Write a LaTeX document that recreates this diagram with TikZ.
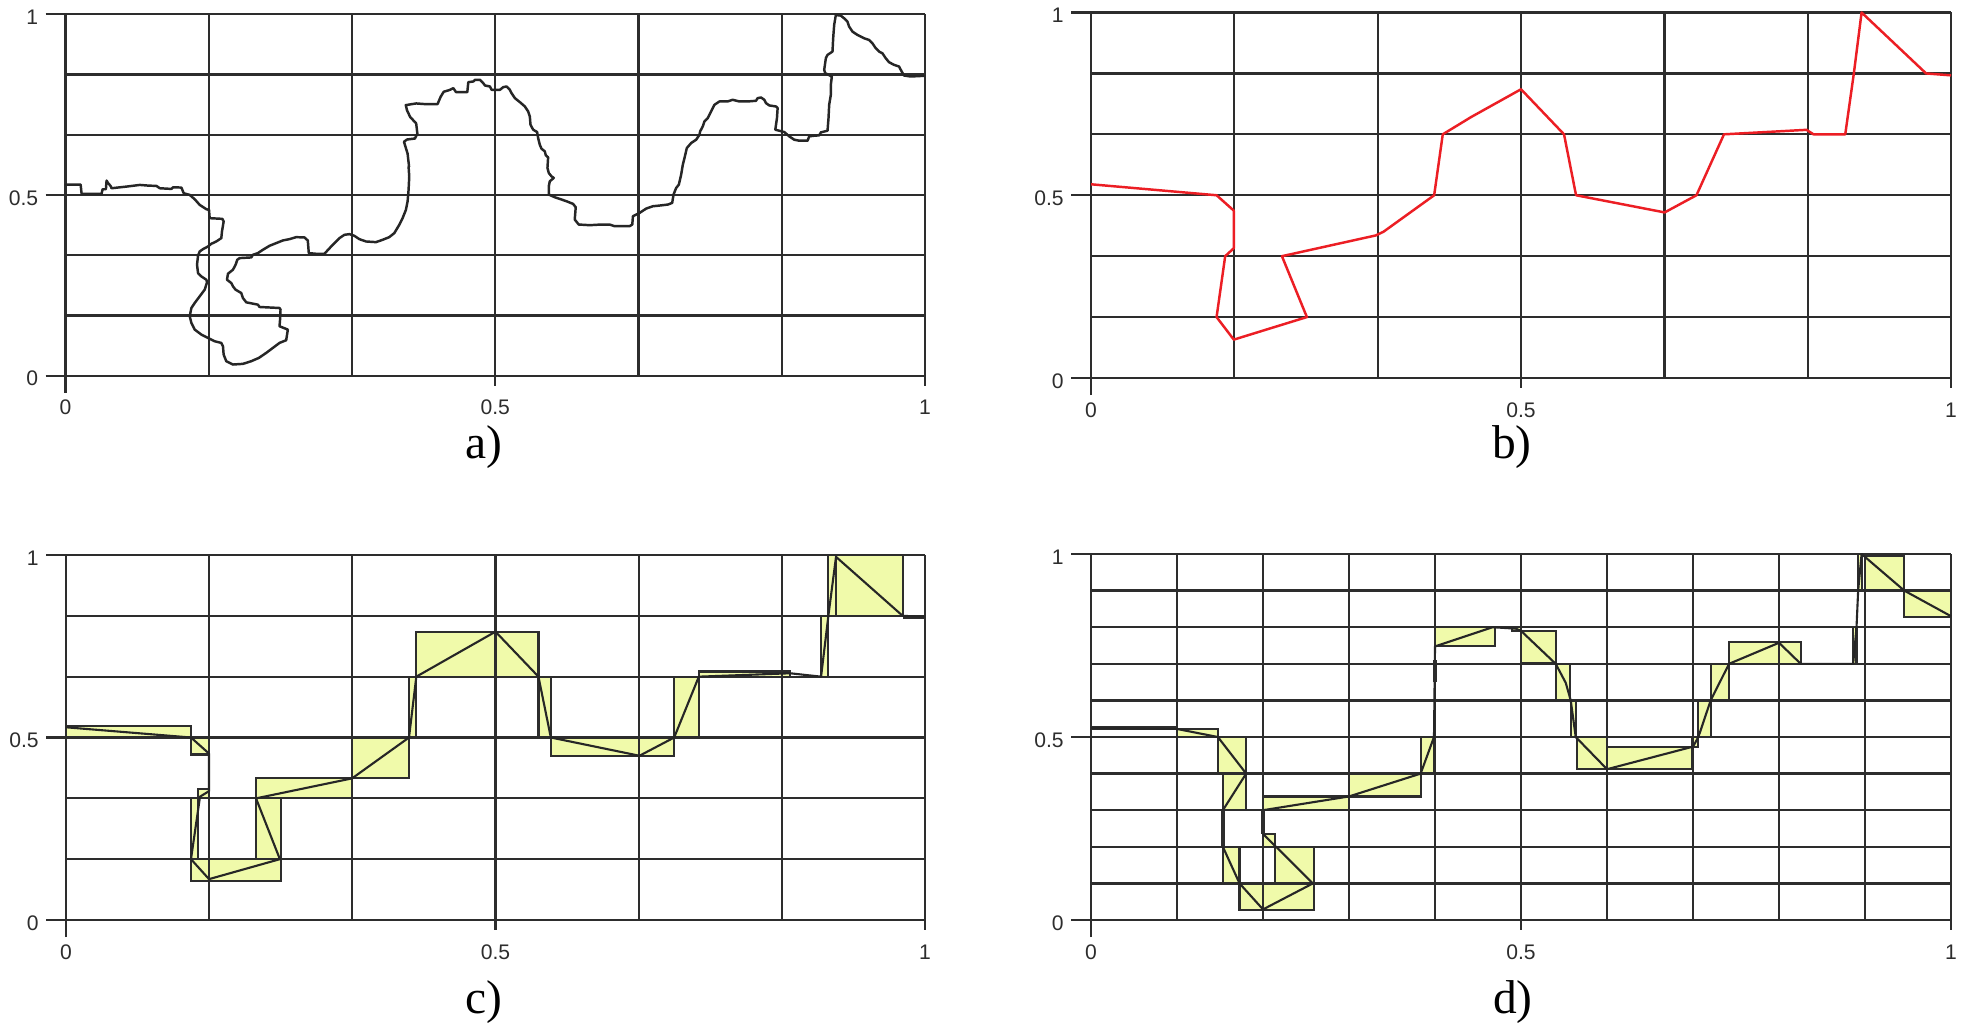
\documentclass[tikz,border=0pt]{standalone}
\usepackage{fontspec}
\setmainfont{Liberation Serif}
\newfontfamily\tickfont{Liberation Sans}
\definecolor{gridc}{RGB}{45,45,45}
\definecolor{boxfill}{RGB}{240,250,170}
\definecolor{redline}{RGB}{236,30,36}
\tikzset{
  gridln/.style={draw=gridc, line width=0.65pt},
  ticklab/.style={font=\tickfont\fontsize{6}{7}\selectfont, inner sep=0pt, text=gridc},
  caplab/.style={font=\fontsize{13.5}{15}\selectfont, inner sep=0pt},
  walk/.style={draw=black!85, line width=0.7pt, line join=round, line cap=round},
  polyred/.style={draw=redline, line width=0.7pt, line join=round},
  polyblk/.style={draw=black!85, line width=0.6pt, line join=round},
  celledge/.style={draw=gridc, line width=0.6pt},
}
\newcommand{\panelgrid}[2]{%
  \foreach \k in {1,...,#2} {
    \draw[gridln] (\k/#2,0) -- (\k/#2,1);
    \draw[gridln] (0,\k/#2) -- (1,\k/#2);
  }
  \draw[gridln] (-0.023,0) -- (1,0);
  \draw[gridln] (0,-0.047) -- (0,1);
  \draw[gridln] (-0.023,0.5) -- (0,0.5);
  \draw[gridln] (-0.023,1) -- (0,1);
  \draw[gridln] (0.5,0) -- (0.5,-0.028);
  \draw[gridln] (1,0) -- (1,-0.028);
  \node[ticklab, anchor=east] (#1y0) at (-0.031,-0.008) {0};
  \node[ticklab, anchor=east] (#1y5) at (-0.031,0.492) {0.5};
  \node[ticklab, anchor=east] (#1y1) at (-0.031,0.992) {1};
  \node[ticklab] (#1x0) at (0,-0.088) {0};
  \node[ticklab] (#1x5) at (0.5,-0.088) {0.5};
  \node[ticklab] (#1x1) at (1,-0.088) {1};
}
\def\crects{0/0.5/0.1455/0.531, 0.1455/0.4536/0.1665/0.5, 0.154/0.3333/0.1665/0.358,
  0.1455/0.1667/0.154/0.3333, 0.1455/0.107/0.2503/0.1667, 0.2212/0.1667/0.2503/0.3333,
  0.2212/0.3333/0.333/0.39, 0.333/0.39/0.3993/0.5, 0.3993/0.5/0.4078/0.6667,
  0.4078/0.6667/0.55/0.79, 0.55/0.5/0.5644/0.6667, 0.5644/0.45/0.708/0.5,
  0.708/0.5/0.7367/0.6667, 0.7367/0.6667/0.843/0.681, 0.879/0.6667/0.8875/0.8333,
  0.8875/0.8333/0.974/1.0}
\def\drects{0/0.522/0.1/0.528, 0.1/0.5/0.1475/0.5219, 0.1475/0.4/0.1804/0.5,
  0.1533/0.3/0.1804/0.4, 0.1533/0.1/0.1727/0.2, 0.1727/0.027/0.2/0.1,
  0.2/0.027/0.2589/0.1, 0.2143/0.1/0.2589/0.2, 0.2/0.2/0.2143/0.2354,
  0.2/0.3/0.3/0.3376, 0.3/0.3376/0.3833/0.4, 0.3833/0.4/0.3988/0.5,
  0.4/0.7475/0.4698/0.8, 0.49/0.79/0.5/0.8, 0.5/0.7032/0.5403/0.7908,
  0.5403/0.6/0.5566/0.7, 0.5578/0.5/0.5636/0.6, 0.5647/0.4129/0.6/0.5,
  0.6/0.4129/0.6992/0.4737, 0.6992/0.4737/0.7062/0.5, 0.7062/0.5/0.7205/0.6,
  0.7205/0.6/0.7419/0.7, 0.7419/0.7/0.8252/0.759, 0.8862/0.7/0.8901/0.8,
  0.892/0.9/0.896/1.0, 0.9/0.9/0.9456/0.9954, 0.9456/0.828/1.0/0.9}
\begin{document}
\begin{tikzpicture}
\fill[white] (0,0) rectangle (19.67,-10.25);
\useasboundingbox (0,0) rectangle (19.67,-10.25);

% ---------------- panel a ----------------
\begin{scope}[shift={(0.655,-3.757)}, xscale=8.595, yscale=3.614]
  \panelgrid{a}{6}
\end{scope}
\begin{scope}[shift={(0.60,-1.50)}, x=0.0033333cm, y=-0.0033333cm]
\draw[walk] (17,104) -- (62,104) -- (65,132) -- (125,132) -- (128,118) -- (138,118) -- (140,92) -- (145,100) -- (152,108) -- (155,115) -- (200,110) -- (240,105) -- (265,107) -- (290,108) -- (300,115) -- (335,117) -- (340,112) -- (365,113) -- (372,130) -- (390,135) -- (405,148) -- (420,165) -- (440,178) -- (448,180) -- (450,205) -- (488,207) -- (492,215) -- (487,245) -- (485,265) -- (470,275) -- (455,282) -- (445,290) -- (430,298) -- (420,305) -- (415,318) -- (412,345) -- (415,370) -- (425,380) -- (440,390) -- (442,398) -- (435,420) -- (420,440) -- (405,460) -- (395,475) -- (390,500) -- (395,520) -- (405,540) -- (425,555) -- (445,565) -- (465,575) -- (485,580) -- (490,590) -- (492,615) -- (500,635) -- (520,645) -- (550,643) -- (575,635) -- (598,625) -- (620,610) -- (640,595) -- (660,580) -- (680,572) -- (685,540) -- (660,530) -- (662,505) -- (663,480) -- (660,475) -- (600,472) -- (595,465) -- (560,458) -- (550,445) -- (545,430) -- (528,420) -- (520,410) -- (515,400) -- (502,390) -- (505,372) -- (520,360) -- (528,345) -- (533,330) -- (540,325) -- (575,323) -- (580,315) -- (595,310) -- (610,300) -- (630,288) -- (650,280) -- (670,272) -- (690,268) -- (710,262) -- (735,263) -- (745,272) -- (748,310) -- (770,312) -- (795,312) -- (820,285) -- (840,265) -- (855,255) -- (870,253) -- (885,258) -- (900,268) -- (920,275) -- (950,277) -- (970,270) -- (990,262) -- (1005,250) -- (1020,225) -- (1030,205) -- (1040,180) -- (1045,155) -- (1048,120) -- (1050,80) -- (1048,50);
\end{scope}
\begin{scope}[x=0.01cm, y=-0.01cm]
\draw[walk] (409.3,166.7) -- (407.8,153.6) -- (404.2,141.9) -- (407.2,139.6) -- (415.2,138.6) -- (417.6,133.6) -- (416.4,123.5) -- (410.3,116.9) -- (407.2,110.2) -- (406,105.2) -- (416.4,103.5) -- (425.6,104.2) -- (437.8,104.2) -- (440.9,96.8) -- (444,91.8) -- (450,90);
\end{scope}
\begin{scope}[shift={(4.50,-0.05)}, x=0.0033333cm, y=-0.0033333cm]
\draw[walk] (0,255) -- (10,250) -- (18,262) -- (52,262) -- (55,232) -- (70,230) -- (75,225) -- (90,225) -- (100,235) -- (105,242) -- (120,245) -- (125,255) -- (150,255) -- (160,247) -- (170,245) -- (180,255) -- (185,265) -- (195,280) -- (210,292) -- (225,305) -- (235,320) -- (240,335) -- (242,360) -- (250,375) -- (262,382) -- (265,400) -- (270,420) -- (275,432) -- (285,440) -- (288,452) -- (295,458) -- (293,490) -- (297,505) -- (305,515) -- (312,520) -- (300,530) -- (297,545) -- (297,570) -- (315,578) -- (330,583) -- (350,590) -- (370,598) -- (378,608) -- (375,645) -- (387,660) -- (420,662) -- (455,660) -- (480,660) -- (495,665) -- (540,665) -- (548,660) -- (550,635) -- (570,625) -- (590,612) -- (610,605) -- (630,603) -- (655,600) -- (668,595) -- (672,570) -- (680,550) -- (688,540) -- (695,510) -- (700,480) -- (705,460) -- (712,430) -- (725,415) -- (740,405) -- (750,390) -- (752,380) -- (760,365) -- (765,350) -- (775,340) -- (785,320) -- (795,300) -- (810,290) -- (835,290) -- (850,285) -- (870,290) -- (895,290) -- (920,288) -- (925,280) -- (935,278) -- (945,285) -- (950,295) -- (960,302) -- (980,305) -- (985,310) -- (983,340) -- (978,375) -- (990,378) -- (1005,382) -- (1020,395) -- (1035,405) -- (1050,408) -- (1075,408) -- (1080,395) -- (1095,393) -- (1110,392) -- (1115,383) -- (1135,378) -- (1138,340) -- (1140,300) -- (1145,270) -- (1145,240) -- (1148,215) -- (1128,205) -- (1125,195) -- (1130,160) -- (1135,150) -- (1150,140) -- (1152,100) -- (1155,60) -- (1160,30) -- (1175,32) -- (1185,40) -- (1195,50) -- (1200,65) -- (1210,80) -- (1225,90) -- (1245,100) -- (1260,105) -- (1270,115) -- (1280,130) -- (1290,140) -- (1300,145) -- (1310,160) -- (1320,172) -- (1335,180) -- (1350,185) -- (1358,200) -- (1365,212) -- (1385,215) -- (1425,213);
\end{scope}
\node[caplab] (capa) at (4.84,-4.47) {a)};

% ---------------- panel b ----------------
\begin{scope}[shift={(10.91,-3.78)}, xscale=8.60, yscale=3.655]
  \panelgrid{b}{6}
  \draw[polyred] (0,0.53) -- (0.146,0.5) -- (0.166,0.458) -- (0.166,0.355) -- (0.156,0.3333) -- (0.146,0.1667) -- (0.166,0.105) -- (0.251,0.1667) -- (0.222,0.3333) -- (0.331,0.39) -- (0.340,0.40) -- (0.399,0.5) -- (0.409,0.6667) -- (0.442,0.714) -- (0.500,0.79) -- (0.550,0.6667) -- (0.564,0.5) -- (0.667,0.453) -- (0.704,0.5) -- (0.736,0.6667) -- (0.832,0.679) -- (0.840,0.6667) -- (0.877,0.6667) -- (0.887,0.8333) -- (0.896,1.0) -- (0.971,0.8333) -- (1.0,0.828);
\end{scope}
\node[caplab] (capb) at (15.12,-4.47) {b)};

% ---------------- panel c ----------------
\begin{scope}[shift={(0.66,-9.20)}, xscale=8.59, yscale=3.65]
  \foreach \xa/\ya/\xb/\yb in \crects { \fill[boxfill] (\xa,\ya) rectangle (\xb,\yb); }
  \panelgrid{c}{6}
  \foreach \xa/\ya/\xb/\yb in \crects { \draw[celledge] (\xa,\ya) rectangle (\xb,\yb); }
  \draw[celledge] (0.8964,0.8333) -- (0.8964,1);
  \fill[gridc] (0.974,0.824) rectangle (1.0,0.8333);
  \draw[polyblk] (0,0.528) -- (0.1455,0.5) -- (0.1665,0.456) -- (0.1665,0.353) -- (0.156,0.338) -- (0.1455,0.1667) -- (0.1665,0.112) -- (0.249,0.1667) -- (0.2212,0.3333) -- (0.333,0.388) -- (0.3993,0.5) -- (0.4078,0.6667) -- (0.5,0.79) -- (0.55,0.6667) -- (0.5644,0.5) -- (0.6676,0.45) -- (0.708,0.5) -- (0.7367,0.6667) -- (0.843,0.676) -- (0.879,0.6667) -- (0.8875,0.8333) -- (0.8964,0.995) -- (0.974,0.8333) -- (1,0.831);
\end{scope}
\node[caplab] (capc) at (4.84,-10.02) {c)};

% ---------------- panel d ----------------
\begin{scope}[shift={(10.91,-9.20)}, xscale=8.60, yscale=3.66]
  \foreach \xa/\ya/\xb/\yb in \drects { \fill[boxfill] (\xa,\ya) rectangle (\xb,\yb); }
  \panelgrid{d}{10}
  \foreach \xa/\ya/\xb/\yb in \drects { \draw[celledge] (\xa,\ya) rectangle (\xb,\yb); }
  \draw[polyblk] (0,0.525) -- (0.1,0.522) -- (0.1475,0.5) -- (0.1804,0.4) -- (0.1533,0.3) -- (0.1533,0.2) -- (0.1727,0.1) -- (0.2,0.029) -- (0.258,0.1) -- (0.2,0.2354) -- (0.2,0.3) -- (0.3,0.3376) -- (0.3833,0.4) -- (0.3988,0.5) -- (0.4,0.7475) -- (0.467,0.8) -- (0.494,0.796) -- (0.5,0.79) -- (0.5403,0.7) -- (0.552,0.648) -- (0.5578,0.6) -- (0.5636,0.5) -- (0.6,0.412) -- (0.7,0.4737) -- (0.7062,0.5) -- (0.7205,0.6) -- (0.7419,0.7) -- (0.8,0.7575) -- (0.8252,0.7) -- (0.8862,0.7) -- (0.8901,0.8) -- (0.892,0.9) -- (0.896,1.0) -- (0.9456,0.9) -- (1.0,0.83);
  \draw[draw=gridc, line width=1pt] (0.1533,0.3) -- (0.1533,0.2);
  \draw[draw=gridc, line width=1pt] (0.2,0.2354) -- (0.2,0.3);
  \draw[draw=gridc, line width=1pt] (0.4,0.65) -- (0.4,0.71);
\end{scope}
\node[caplab] (capd) at (15.13,-10.02) {d)};
\end{tikzpicture}
\end{document}
